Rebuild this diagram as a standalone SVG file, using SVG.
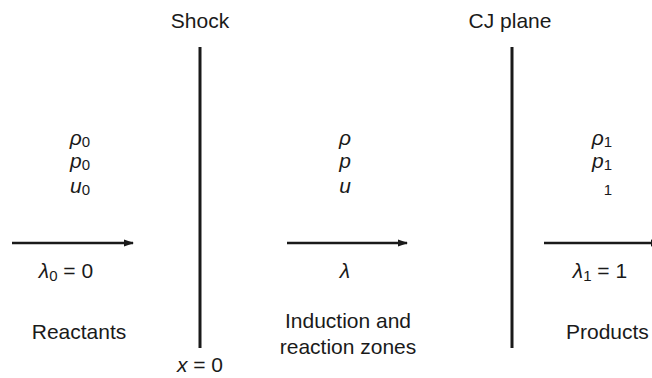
<svg xmlns="http://www.w3.org/2000/svg" width="652" height="378" viewBox="0 0 652 378">
<style>
text{font-family:"Liberation Sans",Arial,sans-serif;font-size:21px;fill:#1a1a1a;text-anchor:middle}
.v{font-style:italic}
.s{font-style:normal;font-size:15px}
.plane{stroke:#1a1a1a;stroke-width:3}
.flow{stroke:#1a1a1a;stroke-width:2.5;fill:none}
</style>
<defs>
<marker id="ah" markerWidth="10" markerHeight="8" refX="9" refY="4" orient="auto" markerUnits="userSpaceOnUse">
<path d="M0,0.5 L10,4 L0,7.5 Z" fill="#1a1a1a"/>
</marker>
</defs>
<g id="shock">
<line class="plane" x1="200" y1="47" x2="200" y2="348"/>
<text x="200" y="28">Shock</text>
<text x="200" y="372"><tspan class="v">x</tspan> = 0</text>
</g>
<g id="cj-plane">
<line class="plane" x1="512" y1="47" x2="512" y2="348"/>
<text x="510" y="28">CJ plane</text>
</g>
<g id="reactants">
<text x="80" y="145" class="v">ρ<tspan class="s" dy="2">0</tspan></text>
<text x="80" y="168" class="v">p<tspan class="s" dy="2">0</tspan></text>
<text x="80" y="193" class="v">u<tspan class="s" dy="2">0</tspan></text>
<text x="66" y="278"><tspan class="v">λ</tspan><tspan class="s" dy="3">0</tspan><tspan dy="-3"> = 0</tspan></text>
<text x="79" y="339">Reactants</text>
</g>
<g id="zone">
<text x="345" y="145" class="v">ρ</text>
<text x="345" y="168" class="v">p</text>
<text x="345" y="193" class="v">u</text>
<text x="345" y="278" class="v">λ</text>
<text x="348" y="328">Induction and</text>
<text x="348" y="354">reaction zones</text>
</g>
<g id="products">
<text x="602" y="145" class="v">ρ<tspan class="s" dy="2">1</tspan></text>
<text x="602" y="168" class="v">p<tspan class="s" dy="2">1</tspan></text>
<text x="608" y="195" class="s">1</text>
<text x="600" y="278"><tspan class="v">λ</tspan><tspan class="s" dy="3">1</tspan><tspan dy="-3"> = 1</tspan></text>
<text x="566" y="339" style="text-anchor:start">Products</text>
</g>
<g id="connectors">
<line class="flow" x1="12" y1="243" x2="133" y2="243" marker-end="url(#ah)"/>
<line class="flow" x1="287" y1="243" x2="407" y2="243" marker-end="url(#ah)"/>
<line class="flow" x1="544" y1="243" x2="660" y2="243" marker-end="url(#ah)"/>
</g>
</svg>
